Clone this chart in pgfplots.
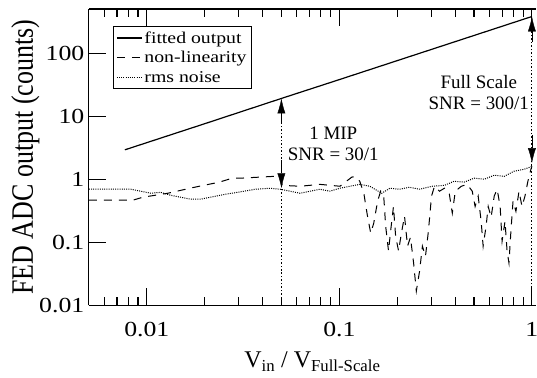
\documentclass[border=0pt]{standalone}
\usepackage{fontspec}
\setmainfont{Liberation Serif}
\usepackage{pgfplots}
\pgfplotsset{compat=1.18}
\usetikzlibrary{arrows.meta}
\newcommand\sx[1]{\scalebox{1.2}[1]{#1}}

\pgfplotstableread{
x y
0.0077 2.93
0.02 7.6
0.05 19.1
0.1 38
0.2 76
0.5 190
1.0 380
}\fitted

\pgfplotstableread{
x y
0.005 0.466
0.00847 0.466
0.00953 0.519
0.01285 0.60
0.0177 0.747
0.0238 0.90
0.0278 1.04
0.0306 1.04
0.0453 1.11
0.0493 1.09
0.0505 0.80
0.0625 0.775
0.0793 0.83
0.1007 0.775
0.116 1.08
0.121 1.11
0.1276 0.93
0.134 0.60
0.140 0.26
0.1455 0.14
0.1508 0.20
0.158 0.45
0.164 0.65
0.170 0.54
0.174 0.18
0.180 0.073
0.185 0.16
0.191 0.37
0.196 0.125
0.203 0.073
0.210 0.14
0.218 0.26
0.226 0.087
0.234 0.12
0.243 0.047
0.251 0.0169
0.261 0.035
0.270 0.087
0.280 0.06
0.290 0.15
0.301 0.54
0.312 0.775
0.331 0.646
0.351 0.72
0.372 0.60
0.386 0.29
0.40 0.646
0.43 0.775
0.461 0.83
0.49 0.646
0.507 0.37
0.526 0.54
0.545 0.216
0.558 0.087
0.578 0.18
0.593 0.37
0.614 0.25
0.637 0.54
0.66 0.695
0.684 0.37
0.70 0.104
0.725 0.216
0.743 0.073
0.76 0.047
0.778 0.15
0.798 0.45
0.826 0.31
0.857 0.646
0.888 0.37
0.92 0.54
0.953 0.93
0.988 1.44
1.0 1.6
}\nonlin

\pgfplotstableread{
x y
0.005 0.695
0.00827 0.695
0.0093 0.646
0.0105 0.60
0.0118 0.62
0.0133 0.558
0.015 0.519
0.0169 0.483
0.019 0.483
0.0214 0.519
0.0256 0.579
0.0295 0.62
0.0366 0.695
0.0437 0.72
0.0493 0.695
0.0555 0.646
0.0625 0.60
0.0704 0.646
0.0793 0.695
0.0893 0.646
0.1006 0.72
0.1134 0.775
0.1276 0.83
0.144 0.775
0.166 0.60
0.183 0.72
0.2055 0.695
0.231 0.747
0.261 0.695
0.304 0.775
0.351 0.80
0.395 0.93
0.445 0.90
0.501 1.04
0.565 1.0
0.637 1.157
0.717 1.11
0.807 1.34
0.91 1.44
1.0 1.6
}\noise

\begin{document}
\begin{tikzpicture}
\begin{axis}[
  scale only axis, width=448pt, height=297pt,
  xmode=log, ymode=log,
  xmin=0.005, xmax=1.05, ymin=0.01, ymax=500,
  axis x line*=box, axis y line*=left,
  axis line style={-, line width=1.3pt},
  tick align=inside,
  xtick={0.01,0.1,1}, xticklabels={\sx{0.01},\sx{0.1},\sx{1}},
  ytick={0.01,0.1,1,10,100}, yticklabels={\sx{0.01},\sx{0.1},\sx{1},\sx{10},\sx{100}},
  minor xtick={0.006,0.007,0.008,0.009,0.02,0.03,0.04,0.05,0.06,0.07,0.08,0.09,0.2,0.3,0.4,0.5,0.6,0.7,0.8,0.9},
  yminorticks=false,
  major tick length=17pt, minor tick length=8pt,
  every tick/.style={black, line width=1.1pt},
  /pgf/number format/assume math mode=true,
  ticklabel style={font=\fontsize{21.5}{21.5}\selectfont},
  xticklabel style={anchor=base, yshift=-31pt},
  yticklabel style={xshift=-1pt},
  xlabel={V\textsubscript{in} / V\textsubscript{Full-Scale}},
  xlabel style={at={(axis description cs:0.5,0)}, anchor=base, yshift=-62pt, font=\fontsize{24}{24}\selectfont},
  ylabel={\scalebox{1}[1.2]{\fontsize{26}{26}\selectfont FED ADC output (counts)}},
  ylabel style={at={(axis description cs:0,0.5)}, anchor=base, yshift=56pt},
  legend style={at={(axis description cs:0,1)}, anchor=north west, xshift=24pt, yshift=-17pt,
    font=\fontsize{16.5}{16.5}\selectfont, draw=black, line width=1pt, inner sep=3pt,
    row sep=3pt},
  legend cell align=left,
  legend image code/.code={\draw[#1] (0pt,0pt) -- (25pt,0pt);},
]
\addplot[black, line width=1.2pt] table[x=x,y=y] {\fitted};
\addlegendentry{\sx{fitted output}}
\addplot[black, line width=1pt, dash pattern=on 8pt off 7pt] table[x=x,y=y] {\nonlin};
\addlegendentry{\sx{non-linearity}}
\addplot[black, line width=1pt, dash pattern=on 1pt off 1.2pt] table[x=x,y=y] {\noise};
\addlegendentry{\sx{rms noise}}

\draw[black, line width=1pt, dash pattern=on 1.5pt off 2pt] (axis cs:0.05,0.01) -- (axis cs:0.05,19.1);
\draw[black, line width=1pt, dash pattern=on 1.5pt off 2pt] (axis cs:1,0.01) -- (axis cs:1,380);
\draw[black, -{Latex[length=15pt,width=8pt]}] (axis cs:0.05,8) -- (axis cs:0.05,19.1);
\draw[black, -{Latex[length=15pt,width=8pt]}] (axis cs:0.05,2) -- (axis cs:0.05,0.72);
\draw[black, -{Latex[length=15pt,width=8pt]}] (axis cs:1,150) -- (axis cs:1,380);
\draw[black, -{Latex[length=15pt,width=8pt]}] (axis cs:1,5) -- (axis cs:1,1.8);

\node[align=center, font=\fontsize{19}{21}\selectfont] at (axis cs:0.093,3.6) {1 MIP\\SNR = 30/1};
\node[align=center, font=\fontsize{19}{21}\selectfont] at (axis cs:0.53,24) {Full Scale\\SNR = 300/1};
\end{axis}
\pgfresetboundingbox
\path ([xshift=-89pt,yshift=-72pt]current axis.south west) rectangle ([xshift=1pt,yshift=9pt]current axis.north east);
\end{tikzpicture}
\end{document}
